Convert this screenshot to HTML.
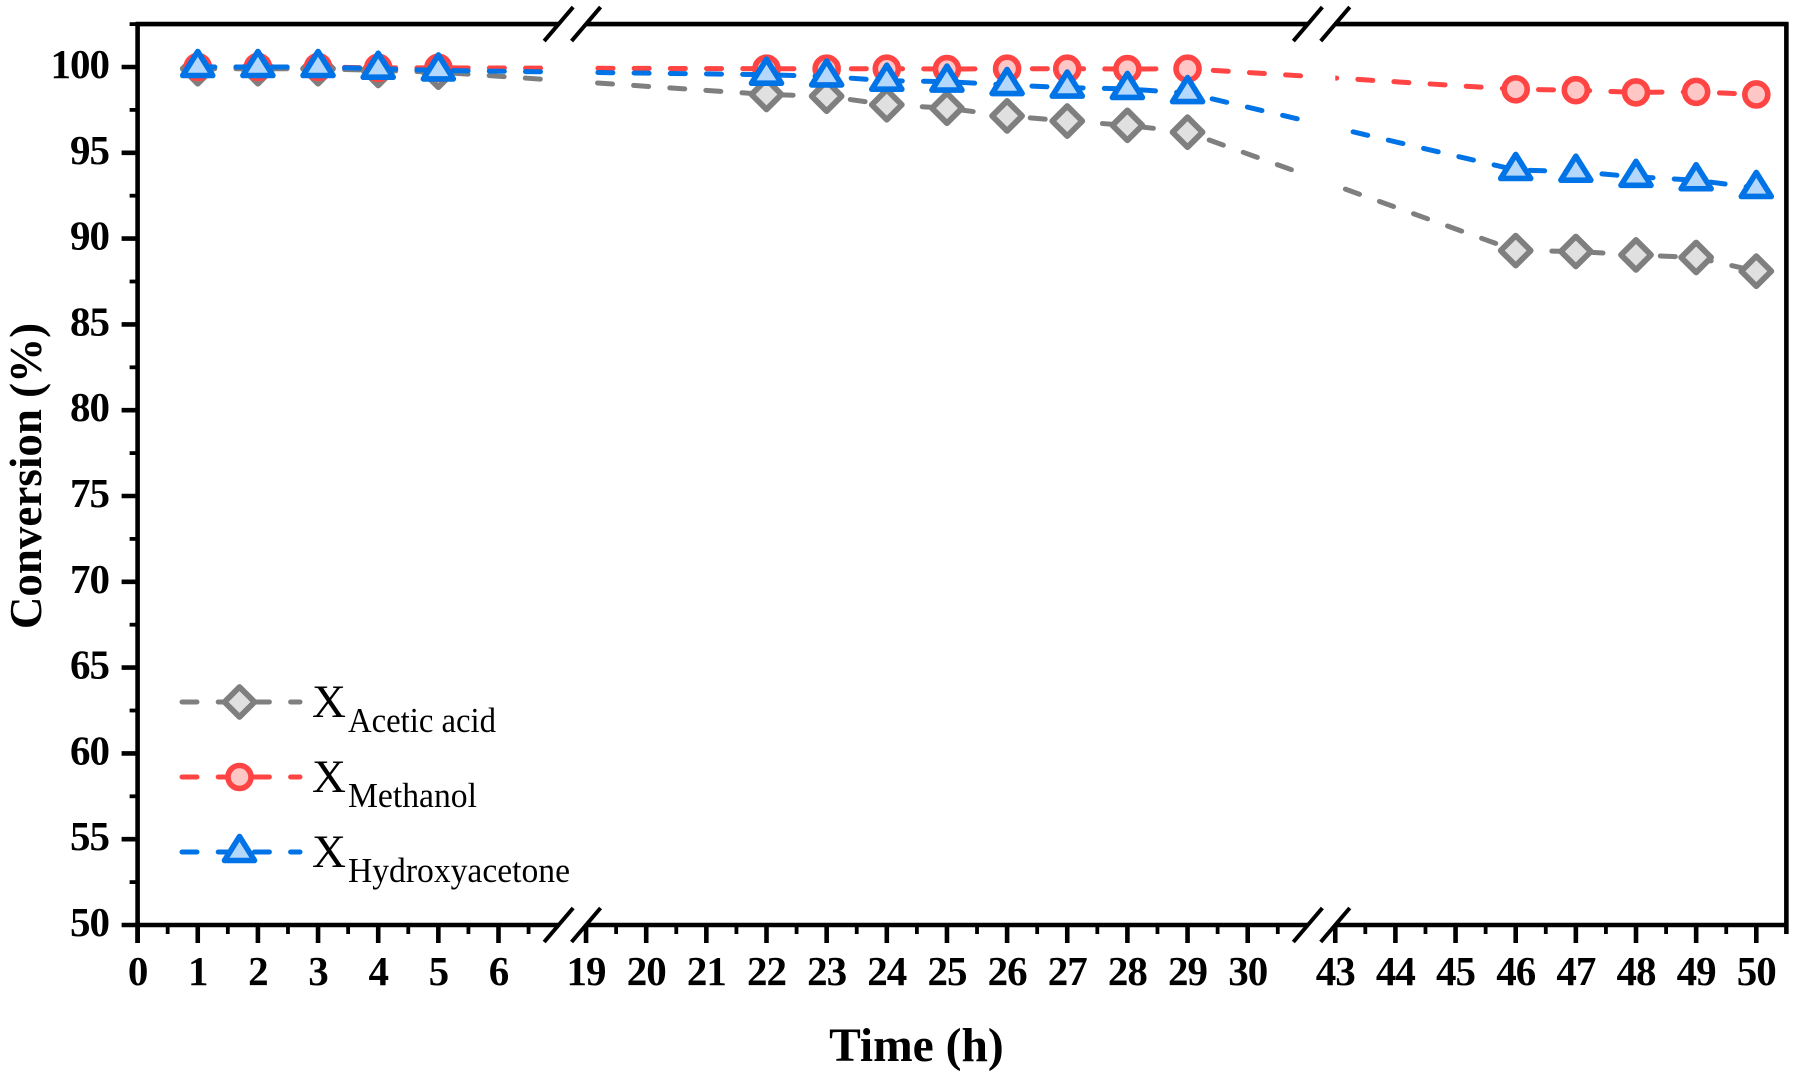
<!DOCTYPE html>
<html lang="en">
<head>
<meta charset="utf-8">
<title>Conversion vs time</title>
<style>
html,body{margin:0;padding:0;background:#fff;width:1812px;height:1082px;overflow:hidden}
svg{display:block}
text{font-family:"Liberation Serif",serif;fill:#000}
.tick{font-size:41px;font-weight:700;letter-spacing:-1px}
.title{font-size:47.5px;font-weight:700}
.title-y{font-size:45px;font-weight:700}
.lx{font-size:47px}
.ls{font-size:34.5px}
</style>
</head>
<body>
<svg id="chart" xmlns="http://www.w3.org/2000/svg" width="1812" height="1082" viewBox="0 0 1812 1082">
  <rect width="1812" height="1082" fill="#fff"/>
  <text class="title" x="921" y="1061" text-anchor="middle" transform="translate(-4.6 0)">Time (h)</text>
  <text class="title-y" transform="translate(41 476) rotate(-90)" text-anchor="middle">Conversion (%)</text>
</svg>
<script>
const times = [1,2,3,4,5,22,23,24,25,26,27,28,29,46,47,48,49,50];
const aceticAcid = [99.9,99.9,99.9,99.8,99.7,98.4,98.3,97.8,97.6,97.15,96.85,96.6,96.2,89.3,89.25,89.05,88.9,88.1];
const methanol = [100,100,100,99.95,99.95,99.9,99.9,99.9,99.88,99.9,99.9,99.88,99.9,98.7,98.65,98.52,98.55,98.4];
const hydroxyacetone = [100,100,100,99.9,99.8,99.55,99.45,99.2,99.15,98.95,98.8,98.72,98.48,94,93.9,93.6,93.4,92.95];
const xTickLabels = [0,1,2,3,4,5,6,19,20,21,22,23,24,25,26,27,28,29,30,43,44,45,46,47,48,49,50];
const yTickLabels = [50,55,60,65,70,75,80,85,90,95,100];
const legendLabels = ["Acetic acid","Methanol","Hydroxyacetone"];

const NS = "http://www.w3.org/2000/svg";
const svg = document.getElementById("chart");
const X0 = 137.6, XU = 60.15, GAP = 27.4;
const Y50 = 925, YU = 17.16;
const GRAY = "#7f7f7f", RED = "#ff4444", BLUE = "#0073e6";

function x(t){
  if (t <= 7) return X0 + t * XU;
  if (t <= 31) return X0 + 7 * XU + GAP + (t - 19) * XU;
  return X0 + 19 * XU + 2 * GAP + (t - 43) * XU;
}
function y(v){ return Y50 - (v - 50) * YU; }
function make(tag, attrs, parent){
  const el = document.createElementNS(NS, tag);
  for (const k in attrs) el.setAttribute(k, attrs[k]);
  (parent || svg).appendChild(el);
  return el;
}
const defs = make("defs", {});
const clip = make("clipPath", {id:"panels"}, defs);
make("rect", {x:x(0), y:0, width:x(7)-x(0), height:1082}, clip);
make("rect", {x:x(19), y:0, width:x(31)-x(19), height:1082}, clip);
make("rect", {x:x(43), y:0, width:x(50.5)-x(43), height:1082}, clip);

/* axes */
const axes = make("g", {stroke:"#000", "stroke-width":4.6, fill:"none"});


const yTop = y(102.5), yBot = y(50), xR = x(50.5);
const segs = [[0,7],[19,31],[43,50.5]];
segs.forEach(function(s){
  make("line", {x1:x(s[0])-(s[0]===0?2:0), x2:x(s[1])+(s[1]===50.5?2:0), y1:yTop, y2:yTop}, axes);
  make("line", {x1:x(s[0])-(s[0]===0?2:0), x2:x(s[1])+(s[1]===50.5?2:0), y1:yBot, y2:yBot}, axes);
});
make("line", {x1:x(0), x2:x(0), y1:yTop-2, y2:yBot+18}, axes);
make("line", {x1:xR, x2:xR, y1:yTop-2, y2:yBot+9}, axes);

/* y ticks */
for (let v = 50; v <= 102.5; v += 2.5) {
  const major = v % 5 === 0;
  const t = make("line", {x1:x(0)-(major?16:8), x2:x(0), y1:y(v), y2:y(v), stroke:"#000", "stroke-width":major?4.6:3.8});
  
  
}
yTickLabels.forEach(function(v){
  const t = make("text", {class:"tick", x:109, y:y(v)+11, "text-anchor":"end"});
  t.textContent = v;
  
  
});

/* x ticks */
segs.forEach(function(s){
  const end = s[1] === 50.5 ? 50.5 : s[1] - 0.5;
  for (let t = s[0]; t <= end; t += 0.5) {
    const major = t % 1 === 0;
    const m = make("line", {x1:x(t), x2:x(t), y1:yBot, y2:yBot+(major?18:9), stroke:"#000", "stroke-width":major?4.6:3.8});
    
    
  }
});
xTickLabels.forEach(function(v){
  const t = make("text", {class:"tick", x:x(v), y:985, "text-anchor":"middle"});
  t.textContent = v;
  
  
});

/* axis-break slashes */
[7,19,31,43].forEach(function(b){
  [yTop,yBot].forEach(function(yy){
    const s = make("line", {x1:x(b)-14.5, y1:yy+17, x2:x(b)+14.5, y2:yy-17, stroke:"#000", "stroke-width":4});
    
    
  });
});

/* markers */
function marker(kind, cx, cy, parent){
  if (kind === "diamond") {
    return make("path", {d:"M"+cx+" "+(cy-15)+"L"+(cx+15)+" "+cy+"L"+cx+" "+(cy+15)+"L"+(cx-15)+" "+cy+"Z",
      fill:"#e0e0e0", stroke:GRAY, "stroke-width":5.8, "stroke-linejoin":"round"}, parent);
  }
  if (kind === "circle") {
    return make("circle", {cx:cx, cy:cy, r:11.5, fill:"#ffc6c6", stroke:RED, "stroke-width":5.6}, parent);
  }
  return make("path", {d:"M"+cx+" "+(cy-15.5)+"L"+(cx+15)+" "+(cy+8.5)+"L"+(cx-15)+" "+(cy+8.5)+"Z",
    fill:"#b4d8fb", stroke:BLUE, "stroke-width":5.6, "stroke-linejoin":"round"}, parent);
}

/* series */
function series(values, color, kind, name){
  const g = make("g", {});
  
  
  const d = times.map(function(t,i){ return (i?"L":"M") + x(t).toFixed(2) + " " + y(values[i]).toFixed(2); }).join("");
  const clipG = make("g", {"clip-path":"url(#panels)"}, g);
  const p = make("path", {d:d, fill:"none", stroke:color, "stroke-width":5, "stroke-linecap":"round", "stroke-dasharray":"15 21.2", "stroke-dashoffset":-2}, clipG);
  
  
  times.forEach(function(t,i){
    const m = marker(kind, x(t), y(values[i]), g);
    
    
  });
}
series(aceticAcid, GRAY, "diamond", "acetic-acid-series");
series(methanol, RED, "circle", "methanol-series");
series(hydroxyacetone, BLUE, "triangle", "hydroxyacetone-series");

/* legend */
const legendColors = [GRAY, RED, BLUE];
const legendKinds = ["diamond","circle","triangle"];
const legendTextWidths = {"Acetic acid":148,"Methanol":129,"Hydroxyacetone":222};
legendLabels.forEach(function(label,i){
  const yy = 702 + i * 75;
  const g = make("g", {});
  
  
  make("line", {x1:182, x2:300, y1:yy, y2:yy, stroke:legendColors[i], "stroke-width":5, "stroke-linecap":"round", "stroke-dasharray":"15 21.2"}, g);
  marker(legendKinds[i], 239.5, yy, g);
  const tx = make("text", {class:"lx", x:312, y:yy+15}, g);
  tx.textContent = "X";
  const ts = make("text", {class:"ls", x:348, y:yy+30, textLength:legendTextWidths[label], lengthAdjust:"spacingAndGlyphs"}, g);
  ts.textContent = label;
});
</script>
</body>
</html>
